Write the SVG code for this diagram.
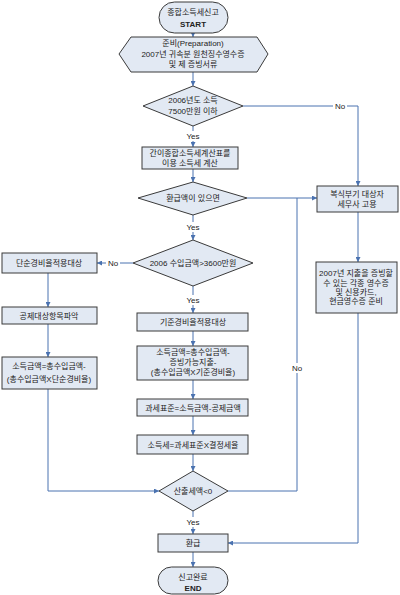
<svg xmlns="http://www.w3.org/2000/svg" width="400" height="595" viewBox="0 0 400 595">
<defs>
<marker id="arr" viewBox="0 0 10 10" refX="10" refY="5" markerWidth="5" markerHeight="5" orient="auto" markerUnits="userSpaceOnUse">
<path d="M0,0 L10,5 L0,10 z" fill="#4a72b0"/>
</marker>
<style>
.n{fill:#e2e9f3;stroke:#3a3a3a;stroke-width:1}
.t{font-family:"Liberation Sans","Noto Sans CJK KR",sans-serif;font-size:8px;fill:#222;text-anchor:middle;dominant-baseline:central}
.b{font-weight:bold}
.c{fill:none;stroke:#4a72b0;stroke-width:1}
.a{marker-end:url(#arr)}
.lb{fill:#fff}
</style>
</defs>
<rect width="400" height="595" fill="#fff"/>
<g id="connectors">
<path class="c a" d="M193,33 V37"/>
<path class="c a" d="M193,72 V86"/>
<path class="c a" d="M193,126 V147"/>
<path class="c a" d="M243,106 H358 V186"/>
<path class="c a" d="M193,169 V182"/>
<path class="c a" d="M247,198 H317"/>
<path class="c a" d="M193,215 V240"/>
<path class="c a" d="M133,263 H97"/>
<path class="c a" d="M193,286 V313"/>
<path class="c a" d="M193,331 V346"/>
<path class="c a" d="M193,380 V399"/>
<path class="c a" d="M193,416 V435"/>
<path class="c a" d="M193,454 V471"/>
<path class="c a" d="M48,273 V307"/>
<path class="c a" d="M48,324 V357"/>
<path class="c a" d="M48,389 V491 H159"/>
<path class="c" d="M228,491 H297 V198"/>
<path class="c a" d="M193,511 V534"/>
<path class="c a" d="M358,212 V262"/>
<path class="c a" d="M358,313 V543 H228"/>
<path class="c a" d="M193,552 V567"/>
<rect class="lb" x="183" y="131" width="20" height="10"/>
<text class="t" x="193" y="136">Yes</text>
<rect class="lb" x="333" y="101" width="14" height="10"/>
<text class="t" x="340" y="106">No</text>
<rect class="lb" x="183" y="222" width="20" height="10"/>
<text class="t" x="193" y="227">Yes</text>
<rect class="lb" x="106" y="258" width="14" height="10"/>
<text class="t" x="113" y="263">No</text>
<rect class="lb" x="183" y="295" width="20" height="10"/>
<text class="t" x="193" y="300">Yes</text>
<rect class="lb" x="290" y="363" width="14" height="10"/>
<text class="t" x="297" y="368">No</text>
<rect class="lb" x="183" y="517" width="20" height="10"/>
<text class="t" x="193" y="522">Yes</text>
</g>
<g id="start">
<rect class="n" x="159" y="2" width="69" height="31" rx="15.5"/>
<text class="t" x="193" y="12">종합소득세신고</text>
<text class="t b" x="193" y="24">START</text>
</g>
<g id="prep">
<polygon class="n" points="119,54 131,37 257,37 268,54 257,72 131,72"/>
<text class="t" x="193" y="43">준비(Preparation)</text>
<text class="t" x="193" y="54">2007년 귀속분 원천징수영수증</text>
<text class="t" x="193" y="64">및 제 증빙서류</text>
</g>
<g id="d1">
<polygon class="n" points="193,86 243,106 193,126 143,106"/>
<text class="t" x="193" y="100">2006년도 소득</text>
<text class="t" x="193" y="111">7500만원 이하</text>
</g>
<g id="simple-calc">
<rect class="n" x="142" y="147" width="96" height="22"/>
<text class="t" x="190" y="153">간이종합소득세계산표를</text>
<text class="t" x="190" y="163">이용 소득세 계산</text>
</g>
<g id="d2">
<polygon class="n" points="193,182 247,198 193,215 138,198"/>
<text class="t" x="193" y="198">환급액이 있으면</text>
</g>
<g id="bookkeeping">
<rect class="n" x="317" y="186" width="81" height="26"/>
<text class="t" x="357" y="194">복식부기 대상자</text>
<text class="t" x="357" y="204">세무사 고용</text>
</g>
<g id="receipts">
<rect class="n" x="316" y="262" width="81" height="51"/>
<text class="t" x="356" y="273">2007년 지출을 증빙할</text>
<text class="t" x="356" y="283">수 있는 각종 영수증</text>
<text class="t" x="356" y="292">및 신용카드,</text>
<text class="t" x="356" y="301">현금영수증 준비</text>
</g>
<g id="d3">
<polygon class="n" points="193,240 253,263 193,286 133,263"/>
<text class="t" x="193" y="263">2006 수입금액&gt;3600만원</text>
</g>
<g id="simple-rate">
<rect class="n" x="2" y="253" width="95" height="20"/>
<text class="t" x="49" y="263">단순경비율적용대상</text>
</g>
<g id="deduct">
<rect class="n" x="2" y="307" width="95" height="17"/>
<text class="t" x="49" y="316">공제대상항목파악</text>
</g>
<g id="income-simple">
<rect class="n" x="2" y="357" width="95" height="32"/>
<text class="t" x="49" y="366">소득금액=총수입금액-</text>
<text class="t" x="49" y="379">(총수입금액X단순경비율)</text>
</g>
<g id="std-rate">
<rect class="n" x="137" y="313" width="111" height="18"/>
<text class="t" x="193" y="322">기준경비율적용대상</text>
</g>
<g id="income-std">
<rect class="n" x="137" y="346" width="111" height="34"/>
<text class="t" x="193" y="352">소득금액=총수입금액-</text>
<text class="t" x="193" y="362">증빙가능지출-</text>
<text class="t" x="193" y="372">(총수입금액X기준경비율)</text>
</g>
<g id="tax-base">
<rect class="n" x="137" y="399" width="111" height="17"/>
<text class="t" x="193" y="408">과세표준=소득금액-공제금액</text>
</g>
<g id="tax">
<rect class="n" x="137" y="435" width="111" height="19"/>
<text class="t" x="193" y="445">소득세=과세표준X결정세율</text>
</g>
<g id="d4">
<polygon class="n" points="193,471 228,491 193,511 159,491"/>
<text class="t" x="193" y="491">산출세액&lt;0</text>
</g>
<g id="refund">
<rect class="n" x="158" y="534" width="70" height="18"/>
<text class="t" x="193" y="543">환급</text>
</g>
<g id="end">
<rect class="n" x="158" y="567" width="70" height="27" rx="13.5"/>
<text class="t" x="193" y="577">신고완료</text>
<text class="t b" x="193" y="588">END</text>
</g>
</svg>
